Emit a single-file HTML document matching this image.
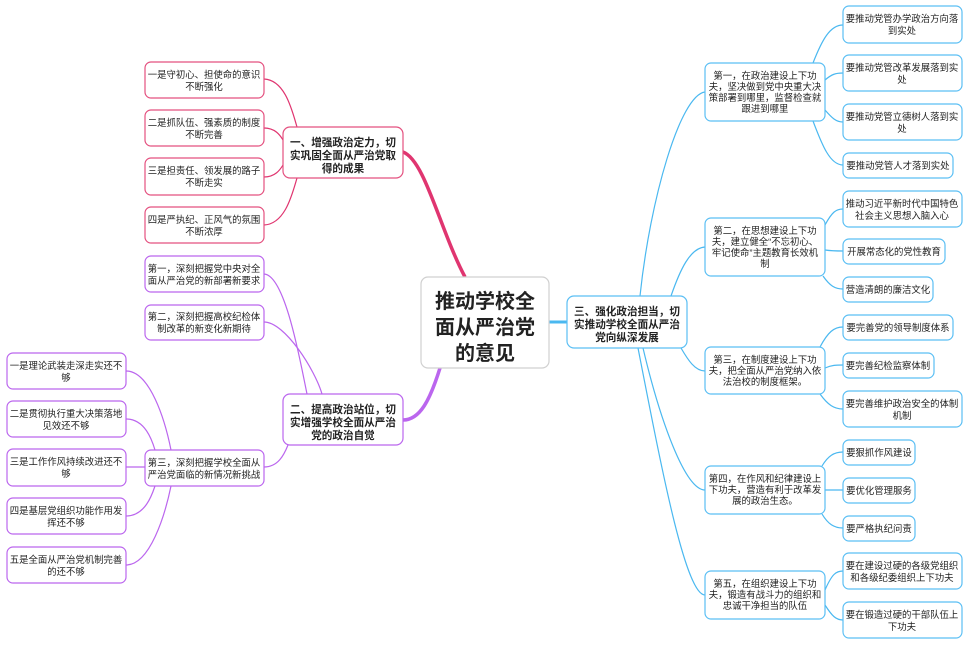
<!DOCTYPE html>
<html><head><meta charset="utf-8"><style>
html,body{margin:0;padding:0;background:#fff;width:966px;height:645px;overflow:hidden}
svg{display:block}
text{font-family:"Liberation Sans","Noto Sans CJK SC",sans-serif;fill:#222;text-anchor:middle}
.l{font-size:9.4px}
.b{font-size:10.6px;font-weight:bold}
.c{font-size:20px;font-weight:bold}
.pk rect{stroke:#e4507f}.pu rect{stroke:#bb66ee}.bl rect{stroke:#5bbff4}
rect{fill:#fff;stroke-width:1.2}
path{fill:none}
</style></head><body>
<svg width="966" height="645" viewBox="0 0 966 645">
<!-- main connectors -->
<path d="M465 277 C440 230 425 160 403 152" stroke="#e03570" stroke-width="3.5"/>
<path d="M440 368 C430 400 420 420 403 420" stroke="#bb66ee" stroke-width="3.5"/>
<path d="M549 322 L567 322" stroke="#4ab8f0" stroke-width="3"/>
<!-- pink connectors -->
<g stroke="#e03570" stroke-width="1.2">
<path d="M264 79 C285 80 292 110 297 127"/>
<path d="M264 128 C275 128 280 135 283 140"/>
<path d="M264 177 C275 177 280 170 283 165"/>
<path d="M264 225 C285 224 292 195 297 178"/>
</g>
<!-- purple connectors -->
<g stroke="#bb66ee" stroke-width="1.2">
<path d="M264 274 C285 275 300 360 307 394"/>
<path d="M264 322 C285 322 315 370 322 394"/>
<path d="M264 467 C278 467 284 455 288 445"/>
<path d="M126 371 C150 371 165 420 171 450"/>
<path d="M126 419 C145 419 152 440 155 450"/>
<path d="M126 467 L145 467"/>
<path d="M126 516 C145 516 152 495 155 486"/>
<path d="M126 565 C150 565 165 515 171 486"/>
</g>
<!-- blue connectors -->
<g stroke="#4ab8f0" stroke-width="1.2">
<path d="M640 296 C650 200 680 95 705 92"/>
<path d="M671 296 C680 270 690 248 705 247"/>
<path d="M681 348 C688 360 695 371 705 371"/>
<path d="M643 348 C660 420 685 490 705 490"/>
<path d="M638 348 C660 460 685 595 705 595"/>
<path d="M813 63 C822 40 830 25 843 25"/>
<path d="M825 80 C832 74 836 73 843 73"/>
<path d="M825 110 C832 118 836 122 843 122"/>
<path d="M813 121 C822 145 830 165 843 165"/>
<path d="M825 225 C832 212 836 209 843 209"/>
<path d="M825 250 C832 251 836 251 843 251"/>
<path d="M823 276 C830 286 835 289 843 289"/>
<path d="M820 347 C828 332 834 327 843 327"/>
<path d="M825 368 C832 365 836 365 843 365"/>
<path d="M820 394 C828 405 834 409 843 409"/>
<path d="M822 466 C828 456 834 452 843 452"/>
<path d="M825 490 L843 490"/>
<path d="M822 514 C828 524 834 528 843 528"/>
<path d="M825 590 C832 574 836 571 843 571"/>
<path d="M825 605 C832 616 836 620 843 620"/>
</g>

<!-- center -->
<rect x="421" y="277" width="128" height="91" rx="7" stroke="#d0d0d0"/>
<text class="c" x="485" y="308">推动学校全</text>
<text class="c" x="485" y="334">面从严治党</text>
<text class="c" x="485" y="360">的意见</text>

<!-- branch 1 -->
<g class="pk">
<rect x="283" y="127" width="120" height="51" rx="7"/>
<text class="b" x="343" y="146">一、增强政治定力，切</text>
<text class="b" x="343" y="159">实巩固全面从严治党取</text>
<text class="b" x="343" y="172">得的成果</text>
<rect x="145" y="62" width="119" height="36" rx="6"/>
<text class="l" x="204" y="78">一是守初心、担使命的意识</text><text class="l" x="204" y="90">不断强化</text>
<rect x="145" y="110" width="119" height="36" rx="6"/>
<text class="l" x="204" y="126">二是抓队伍、强素质的制度</text><text class="l" x="204" y="138">不断完善</text>
<rect x="145" y="158" width="119" height="37" rx="6"/>
<text class="l" x="204" y="174">三是担责任、领发展的路子</text><text class="l" x="204" y="186">不断走实</text>
<rect x="145" y="207" width="119" height="36" rx="6"/>
<text class="l" x="204" y="223">四是严执纪、正风气的氛围</text><text class="l" x="204" y="235">不断浓厚</text>
</g>

<!-- branch 2 -->
<g class="pu">
<rect x="283" y="394" width="120" height="51" rx="7"/>
<text class="b" x="343" y="413">二、提高政治站位，切</text>
<text class="b" x="343" y="426">实增强学校全面从严治</text>
<text class="b" x="343" y="439">党的政治自觉</text>
<rect x="145" y="256" width="119" height="36" rx="6"/>
<text class="l" x="204" y="272">第一，深刻把握党中央对全</text><text class="l" x="204" y="284">面从严治党的新部署新要求</text>
<rect x="145" y="305" width="119" height="35" rx="6"/>
<text class="l" x="204" y="320">第二，深刻把握高校纪检体</text><text class="l" x="204" y="332">制改革的新变化新期待</text>
<rect x="145" y="450" width="119" height="36" rx="6"/>
<text class="l" x="204" y="466">第三，深刻把握学校全面从</text><text class="l" x="204" y="478">严治党面临的新情况新挑战</text>
<rect x="7" y="353" width="119" height="36" rx="6"/>
<text class="l" x="66" y="369">一是理论武装走深走实还不</text><text class="l" x="66" y="381">够</text>
<rect x="7" y="401" width="119" height="36" rx="6"/>
<text class="l" x="66" y="417">二是贯彻执行重大决策落地</text><text class="l" x="66" y="429">见效还不够</text>
<rect x="7" y="449" width="119" height="37" rx="6"/>
<text class="l" x="66" y="465">三是工作作风持续改进还不</text><text class="l" x="66" y="477">够</text>
<rect x="7" y="498" width="119" height="36" rx="6"/>
<text class="l" x="66" y="514">四是基层党组织功能作用发</text><text class="l" x="66" y="526">挥还不够</text>
<rect x="7" y="547" width="119" height="36" rx="6"/>
<text class="l" x="66" y="563">五是全面从严治党机制完善</text><text class="l" x="66" y="575">的还不够</text>
</g>

<!-- branch 3 -->
<g class="bl">
<rect x="567" y="296" width="120" height="52" rx="7"/>
<text class="b" x="627" y="315">三、强化政治担当，切</text>
<text class="b" x="627" y="328">实推动学校全面从严治</text>
<text class="b" x="627" y="341">党向纵深发展</text>

<rect x="705" y="63" width="120" height="58" rx="6"/>
<text class="l" x="765" y="79">第一，在政治建设上下功</text>
<text class="l" x="765" y="90">夫，坚决做到党中央重大决</text>
<text class="l" x="765" y="101">策部署到哪里，监督检查就</text>
<text class="l" x="765" y="112">跟进到哪里</text>
<rect x="705" y="218" width="120" height="58" rx="6"/>
<text class="l" x="765" y="234">第二，在思想建设上下功</text>
<text class="l" x="765" y="245">夫，建立健全“不忘初心、</text>
<text class="l" x="765" y="256">牢记使命”主题教育长效机</text>
<text class="l" x="765" y="267">制</text>
<rect x="705" y="347" width="120" height="47" rx="6"/>
<text class="l" x="765" y="363">第三，在制度建设上下功</text>
<text class="l" x="765" y="374">夫，把全面从严治党纳入依</text>
<text class="l" x="765" y="385">法治校的制度框架。</text>
<rect x="705" y="466" width="120" height="48" rx="6"/>
<text class="l" x="765" y="482">第四，在作风和纪律建设上</text>
<text class="l" x="765" y="493">下功夫，营造有利于改革发</text>
<text class="l" x="765" y="504">展的政治生态。</text>
<rect x="705" y="571" width="120" height="48" rx="6"/>
<text class="l" x="765" y="587">第五，在组织建设上下功</text>
<text class="l" x="765" y="598">夫，锻造有战斗力的组织和</text>
<text class="l" x="765" y="609">忠诚干净担当的队伍</text>

<rect x="843" y="6" width="119" height="37" rx="6"/>
<text class="l" x="902" y="22">要推动党管办学政治方向落</text><text class="l" x="902" y="34">到实处</text>
<rect x="843" y="55" width="119" height="36" rx="6"/>
<text class="l" x="902" y="71">要推动党管改革发展落到实</text><text class="l" x="902" y="83">处</text>
<rect x="843" y="104" width="119" height="36" rx="6"/>
<text class="l" x="902" y="120">要推动党管立德树人落到实</text><text class="l" x="902" y="132">处</text>
<rect x="843" y="153" width="110" height="25" rx="6"/>
<text class="l" x="898" y="169">要推动党管人才落到实处</text>
<rect x="843" y="191" width="119" height="36" rx="6"/>
<text class="l" x="902" y="207">推动习近平新时代中国特色</text><text class="l" x="902" y="219">社会主义思想入脑入心</text>
<rect x="843" y="239" width="102" height="25" rx="6"/>
<text class="l" x="894" y="255">开展常态化的党性教育</text>
<rect x="843" y="277" width="90" height="25" rx="6"/>
<text class="l" x="888" y="293">营造清朗的廉洁文化</text>
<rect x="843" y="315" width="110" height="25" rx="6"/>
<text class="l" x="898" y="331">要完善党的领导制度体系</text>
<rect x="843" y="353" width="91" height="25" rx="6"/>
<text class="l" x="888" y="369">要完善纪检监察体制</text>
<rect x="843" y="391" width="119" height="36" rx="6"/>
<text class="l" x="902" y="407">要完善维护政治安全的体制</text><text class="l" x="902" y="419">机制</text>
<rect x="843" y="440" width="72" height="25" rx="6"/>
<text class="l" x="879" y="456">要狠抓作风建设</text>
<rect x="843" y="478" width="72" height="25" rx="6"/>
<text class="l" x="879" y="494">要优化管理服务</text>
<rect x="843" y="516" width="72" height="25" rx="6"/>
<text class="l" x="879" y="532">要严格执纪问责</text>
<rect x="843" y="553" width="119" height="36" rx="6"/>
<text class="l" x="902" y="569">要在建设过硬的各级党组织</text><text class="l" x="902" y="581">和各级纪委组织上下功夫</text>
<rect x="843" y="602" width="119" height="36" rx="6"/>
<text class="l" x="902" y="618">要在锻造过硬的干部队伍上</text><text class="l" x="902" y="630">下功夫</text>
</g>
</svg>
</body></html>
